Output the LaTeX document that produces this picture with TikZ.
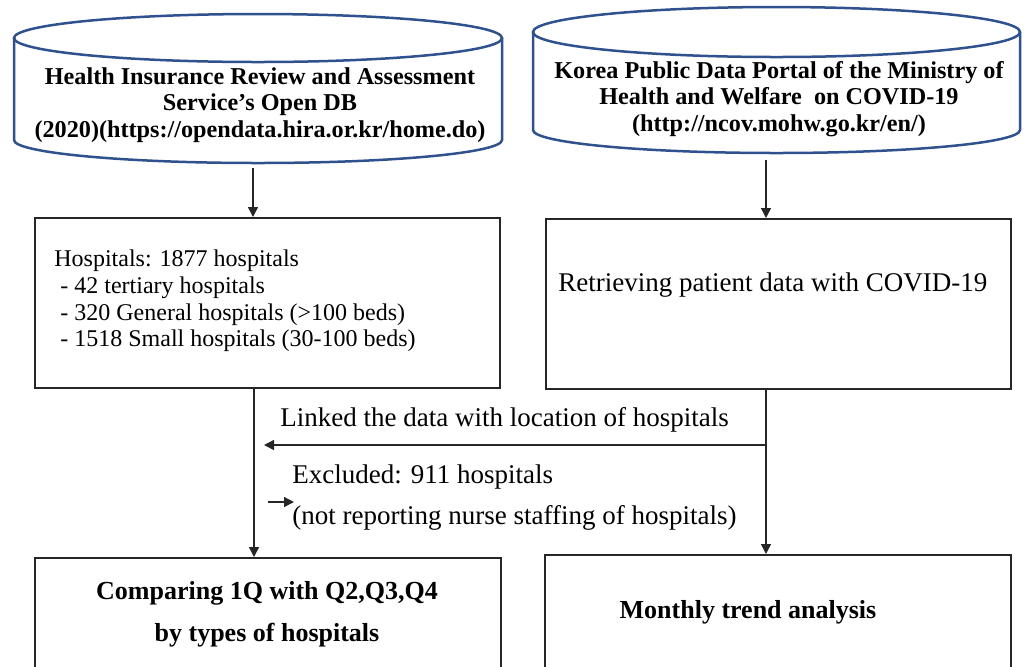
\documentclass[tikz,border=0pt]{standalone}
\usepackage{fontspec}
\setmainfont{Liberation Serif}
\usetikzlibrary{arrows.meta}
\definecolor{dbblue}{RGB}{47,82,143}
\tikzset{
  dbline/.style={draw=dbblue,line width=1.25pt},
  boxline/.style={draw=black!85,line width=0.8pt},
  conn/.style={draw=black!85,line width=0.7pt,-{Triangle[length=5pt,width=5pt]}},
  dbtext/.style={font=\fontsize{12.1}{13.4}\selectfont\bfseries,align=center,inner sep=0pt},
  bodytext/.style={font=\fontsize{12}{13.4}\selectfont,align=left,inner sep=0pt},
  bigtext/.style={font=\fontsize{13.5}{14}\selectfont,align=left,inner sep=0pt},
  boldtext/.style={font=\fontsize{13}{21}\selectfont\bfseries,align=center,inner sep=0pt}
}
\begin{document}
\begin{tikzpicture}[x=0.5pt,y=-0.5pt]
\useasboundingbox (0,0) rectangle (1025,666);
% left cylinder
\draw[dbline,fill=white] (14,38) -- (14,140) arc[start angle=180,end angle=0,x radius=244,y radius=23] -- (502,38);
\draw[dbline] (258,38) ellipse[x radius=244,y radius=24];
% right cylinder
\draw[dbline,fill=white] (533,32) -- (533,130) arc[start angle=180,end angle=0,x radius=243.5,y radius=23] -- (1020,32);
\draw[dbline] (776.5,32) ellipse[x radius=243.5,y radius=25];
\node[dbtext] (dbL) at (260,105) {Health Insurance Review and Assessment\\Service's Open DB\\(2020)(https://opendata.hira.or.kr/home.do)};
\node[dbtext] (dbR) at (779,99) {Korea Public Data Portal of the Ministry of\\Health and Welfare\ \ on COVID-19\\(http://ncov.mohw.go.kr/en/)};
\coordinate (dbLb) at (253,168);
\coordinate (dbRb) at (766,160);
% boxes
\node[boxline,minimum width=232.5pt,minimum height=85pt,anchor=north west,inner sep=0pt] (hosp) at (34,217) {};
\node[boxline,minimum width=232.5pt,minimum height=85pt,anchor=north west,inner sep=0pt] (retr) at (545,218) {};
\node[bodytext,anchor=west] (hosptxt) at (54,301) {Hospitals: 1877 hospitals\\\ - 42 tertiary hospitals\\\ - 320 General hospitals (>100 beds)\\\ - 1518 Small hospitals (30-100 beds)};
\node[bigtext,anchor=west] (retrtxt) at (558,285) {Retrieving patient data with COVID-19};
% bottom boxes
\node[boxline,minimum width=233pt,minimum height=70pt,anchor=north west,inner sep=0pt] (comp) at (34,557) {};
\node[boxline,minimum width=233pt,minimum height=70pt,anchor=north west,inner sep=0pt] (month) at (544,554) {};
\node[boldtext] (comptxt) at (267,614) {Comparing 1Q with Q2,Q3,Q4\\by types of hospitals};
\node[boldtext] (monthtxt) at (748,612) {Monthly trend analysis};
% connectors
\draw[conn] (dbLb) -- (dbLb |- hosp.north);
\draw[conn] (dbRb) -- (dbRb |- retr.north);
\coordinate (hospb) at (254,387);
\coordinate (retrb) at (766,388);
\coordinate (linkR) at (766,445);
\coordinate (linkL) at (264,445);
\draw[conn] (hospb) -- (hospb |- comp.north);
\draw[conn] (retrb) -- (retrb |- month.north);
\draw[conn] (linkR) -- (linkL);
\node[bigtext,anchor=west] (linktxt) at (280,420) {Linked the data with location of hospitals};
\node[bigtext,anchor=west] (excl1) at (292,477) {Excluded: 911 hospitals};
\node[bigtext,anchor=west] (excl2) at (292,518) {(not reporting nurse staffing of hospitals)};
\coordinate (exA) at (268,502);
\coordinate (exB) at (294,502);
\draw[conn] (exA) -- (exB);
\end{tikzpicture}
\end{document}
